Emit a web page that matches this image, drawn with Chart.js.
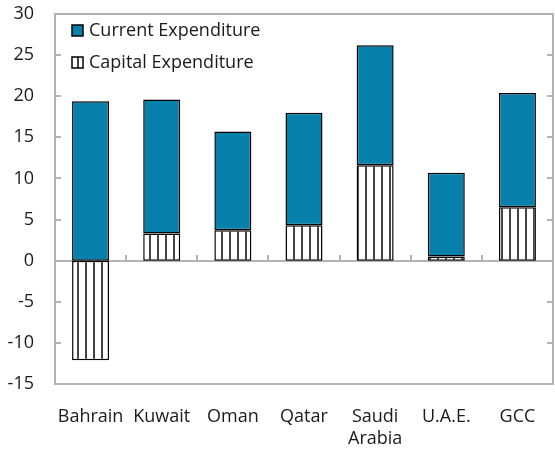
<!DOCTYPE html>
<html>
<head>
<meta charset="utf-8">
<script src="https://cdn.jsdelivr.net/npm/chart.js@4"></script>
<style>
html, body { margin: 0; padding: 0; background: #fff; }
#wrap { width: 555px; height: 451px; position: relative; }
</style>
</head>
<body>
<div id="wrap"><canvas id="chart"></canvas></div>
<script>
// -- Data --
const countries = ['Bahrain', 'Kuwait', 'Oman', 'Qatar', ['Saudi', 'Arabia'], 'U.A.E.', 'GCC'];
const capitalExp = [-12.1, 3.3, 3.7, 4.3, 11.6, 0.5, 6.5];
const currentExp = [19.4, 16.3, 12.0, 13.7, 14.6, 10.2, 13.9];
const yMin = -15, yMax = 30, yStep = 5;

// -- Styles --
const FONT = '"Open Sans", "DejaVu Sans", sans-serif';
const BLUE = '#0781ab';
const FRAME = '#b3b3b3';

// vertical stripes for capital expenditure
function stripePattern() {
    const c = document.createElement('canvas');
    c.width = 8; c.height = 8;
    const g = c.getContext('2d');
    g.fillStyle = '#fff';
    g.fillRect(0, 0, 8, 8);
    g.fillStyle = '#444';
    g.fillRect(5, 0, 2, 8);
    return g.createPattern(c, 'repeat');
}
const stripes = stripePattern();

// frame, inward ticks and zero line (drawn under the bars)
const framePlugin = {
    id: 'frame',
    beforeDatasetsDraw(chart) {
        const { ctx, chartArea: a, scales: { x, y } } = chart;
        ctx.save();
        ctx.strokeStyle = FRAME;
        ctx.lineWidth = 2;
        ctx.strokeRect(a.left, a.top, a.right - a.left, a.bottom - a.top);
        ctx.beginPath();
        for (let v = yMin; v <= yMax; v += yStep) {
            const py = Math.round(y.getPixelForValue(v));
            ctx.moveTo(a.left, py); ctx.lineTo(a.left + 6, py);
            ctx.moveTo(a.right, py); ctx.lineTo(a.right - 6, py);
        }
        const y0 = Math.round(y.getPixelForValue(0));
        ctx.moveTo(a.left, y0); ctx.lineTo(a.right, y0);
        for (let i = 1; i < countries.length; i++) {
            const px = Math.round((x.getPixelForValue(i - 1) + x.getPixelForValue(i)) / 2);
            ctx.moveTo(px, y0); ctx.lineTo(px, y0 - 6);
        }
        ctx.stroke();
        ctx.restore();
    }
};

// legend inside the plot, top-left
const legendPlugin = {
    id: 'insideLegend',
    afterDraw(chart) {
        const { ctx, chartArea: a } = chart;
        const items = [chart.data.datasets[1], chart.data.datasets[0]];
        ctx.save();
        ctx.font = '18px ' + FONT;
        ctx.textBaseline = 'middle';
        items.forEach((ds, i) => {
            const cy = a.top + 17 + i * 32;
            const bx = a.left + 17;
            ctx.fillStyle = ds.backgroundColor;
            ctx.fillRect(bx, cy - 6, 11, 11);
            ctx.strokeStyle = '#000';
            ctx.lineWidth = 1.5;
            ctx.strokeRect(bx, cy - 6, 11, 11);
            ctx.fillStyle = '#1a1a1a';
            ctx.fillText(ds.label, bx + 17, cy);
        });
        ctx.restore();
    }
};

const ctx = document.getElementById('chart').getContext('2d');
new Chart(ctx, {
    type: 'bar',
    data: {
        labels: countries,
        datasets: [{
            label: 'Capital Expenditure',
            data: capitalExp,
            backgroundColor: stripes,
            borderColor: '#000',
            borderWidth: 1.5,
            borderSkipped: false
        }, {
            label: 'Current Expenditure',
            data: currentExp,
            backgroundColor: BLUE,
            borderColor: '#000',
            borderWidth: 1.5,
            borderSkipped: false
        }]
    },
    options: {
        responsive: true,
        maintainAspectRatio: false,
        animation: false,
        datasets: { bar: { categoryPercentage: 0.52, barPercentage: 1.0 } },
        layout: { padding: { top: 14, right: 2, left: 0, bottom: 0 } },
        scales: {
            x: {
                stacked: true,
                grid: { display: false, drawTicks: false },
                border: { display: false },
                ticks: { color: '#1a1a1a', font: { family: FONT, size: 18 }, padding: 22, maxRotation: 0, autoSkip: false },
                afterFit(s) { s.height = 67; s.paddingLeft = 0; s.paddingRight = 0; }
            },
            y: {
                stacked: true,
                min: yMin, max: yMax,
                grid: { display: false, drawTicks: false },
                border: { display: false },
                ticks: { stepSize: yStep, color: '#1a1a1a', font: { family: FONT, size: 18 }, padding: 21 },
                afterFit(s) { s.width = 55; s.paddingTop = 0; s.paddingBottom = 0; }
            }
        },
        plugins: {
            legend: { display: false },
            tooltip: { enabled: false }
        }
    },
    plugins: [framePlugin, legendPlugin]
});
</script>
</body>
</html>
